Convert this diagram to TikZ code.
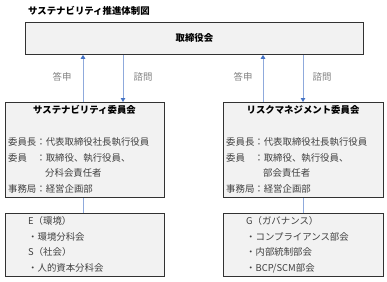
\documentclass[tikz,border=0pt]{standalone}
\usepackage{fontspec}
\setmainfont{Noto Sans CJK JP}
\usetikzlibrary{arrows.meta}
\definecolor{linkblue}{RGB}{143,170,220}
\definecolor{tipblue}{RGB}{68,114,196}
\definecolor{boxfill}{RGB}{242,242,242}
\definecolor{boxline}{RGB}{50,50,50}
\definecolor{txtgray}{RGB}{64,64,64}
\definecolor{lblgray}{RGB}{128,128,128}
\begin{document}
\begin{tikzpicture}[x=1pt,y=-1pt,
  box/.style={draw=boxline, fill=boxfill, line width=0.8pt, inner sep=0pt, anchor=north west},
  txt/.style={anchor=west, inner sep=0pt, text=txtgray, font=\fontsize{9.4}{11}\selectfont},
  ttl/.style={anchor=center, inner sep=0pt, text=black, font=\fontsize{9.4}{11}\selectfont\bfseries},
  lbl/.style={anchor=center, inner sep=0pt, text=lblgray, font=\fontsize{9.4}{11}\selectfont},
  upar/.style={draw=linkblue, line width=1pt, -{Triangle[length=4pt,width=4.5pt,fill=tipblue,color=tipblue]}},
  link/.style={draw=linkblue, line width=1pt}]
\useasboundingbox (0,0) rectangle (387,281);

\node[anchor=west, inner sep=0pt, text=black, font=\fontsize{9.4}{11}\selectfont\bfseries] (title) at (28,11) {サステナビリティ推進体制図};

% board
\node[box, minimum width=338pt, minimum height=32pt] (board) at (25,22) {};
\node[ttl] (boardt) at (board.center) {取締役会};

% committee boxes
\node[box, minimum width=159pt, minimum height=95pt] (lc) at (5,102) {};
\node[box, minimum width=160pt, minimum height=95pt] (rc) at (223,102) {};

% sub boxes
\node[box, minimum width=159pt, minimum height=63pt] (le) at (5,213) {};
\node[box, minimum width=160pt, minimum height=63pt] (re) at (223,213) {};

% coordinates for arrows
\coordinate (la) at (83,0);
\coordinate (lb) at (123,0);
\coordinate (ra) at (263,0);
\coordinate (rb) at (303,0);

\draw[upar] (lc.north -| la) -- (board.south -| la);
\draw[upar] (board.south -| lb) -- (lc.north -| lb);
\draw[upar] (rc.north -| ra) -- (board.south -| ra);
\draw[upar] (board.south -| rb) -- (rc.north -| rb);
\draw[link] (lc.south -| la) -- (le.north -| la);
\draw[link] (rc.south -| rb) -- (re.north -| rb);

\node[lbl] (l1) at (62,77) {答申};
\node[lbl] (l2) at (143,77) {諮問};
\node[lbl] (l3) at (243,77) {答申};
\node[lbl] (l4) at (322,77) {諮問};

% left committee text
\node[ttl] (lct) at (84.5,110) {サステナビリティ委員会};
\node[txt] (lc1) at (8,142) {委員長：代表取締役社長執行役員};
\node[txt] (lc2) at (8,158) {委員　：取締役、執行役員、};
\node[txt] (lc3) at (45,173) {分科会責任者};
\node[txt] (lc4) at (8,189) {事務局：経営企画部};

% right committee text
\node[ttl] (rct) at (303,110) {リスクマネジメント委員会};
\node[txt] (rc1) at (226,142) {委員長：代表取締役社長執行役員};
\node[txt] (rc2) at (226,158) {委員　：取締役、執行役員、};
\node[txt] (rc3) at (263,173) {部会責任者};
\node[txt] (rc4) at (226,189) {事務局：経営企画部};

% left sub text
\node[txt] (le1) at (28,221) {E（環境）};
\node[txt] (le2) at (28,237) {・環境分科会};
\node[txt] (le3) at (28,252) {S（社会）};
\node[txt] (le4) at (28,268) {・人的資本分科会};

% right sub text
\node[txt] (re1) at (246,221) {G（ガバナンス）};
\node[txt] (re2) at (246,237) {・コンプライアンス部会};
\node[txt] (re3) at (246,252) {・内部統制部会};
\node[txt] (re4) at (246,268) {・BCP/SCM部会};
\end{tikzpicture}
\end{document}
